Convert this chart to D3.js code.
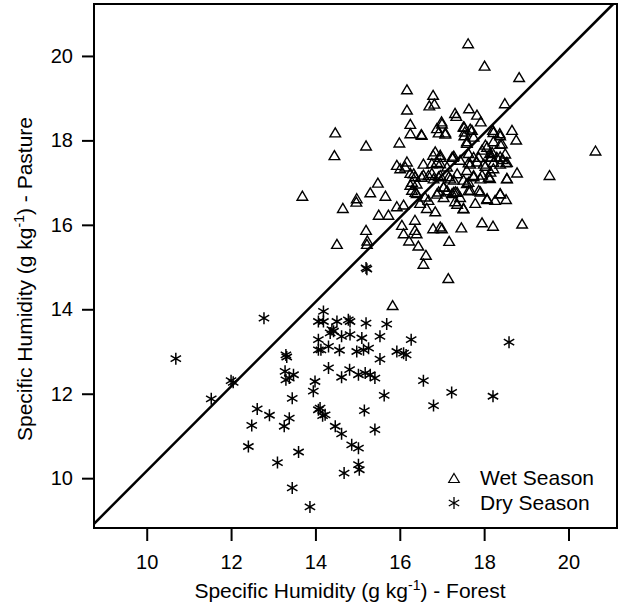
<!DOCTYPE html>
<html>
<head>
<meta charset="utf-8">
<script src="https://cdn.jsdelivr.net/npm/d3@7"></script>
<style>
  body { margin: 0; background: #fff; }
  svg { display: block; font-family: "Liberation Sans", Arial, Helvetica, sans-serif; }
</style>
</head>
<body>
<div id="chart"></div>
<script>
// Specific humidity, forest (x) vs pasture (y), g/kg
const wetSeason = [
  [17.62,20.30],[18.01,19.77],[18.83,19.50],[16.17,19.21],[16.79,19.08],[16.70,18.83],[16.82,18.87],
  [16.17,18.73],[17.64,18.76],[17.31,18.65],[17.34,18.58],[18.49,18.88],[17.83,18.61],[17.92,18.45],
  [16.25,18.39],[16.99,18.45],[14.47,18.19],[16.25,18.17],[16.52,18.13],[16.88,18.29],[16.92,18.19],
  [17.08,18.19],[17.51,18.33],[17.54,18.21],[17.71,18.25],[18.21,18.25],[18.37,18.17],[18.66,18.25],
  [18.76,18.02],[15.20,17.88],[15.99,17.95],[17.59,17.98],[17.75,18.09],[18.03,17.90],[18.22,17.98],
  [18.38,17.92],[14.45,17.65],[20.64,17.76],[16.84,17.74],[16.96,17.66],[16.79,17.66],[17.28,17.64],
  [17.63,17.70],[17.95,17.78],[18.14,17.70],[18.18,17.62],[18.38,17.62],[18.44,17.56],[18.52,17.48],
  [15.93,17.42],[16.01,17.34],[16.17,17.50],[16.56,17.45],[16.76,17.46],[16.96,17.46],[17.12,17.38],
  [17.43,17.54],[17.63,17.48],[17.67,17.45],[17.83,17.50],[18.03,17.40],[18.22,17.34],[18.78,17.24],
  [19.55,17.18],[16.25,17.23],[16.36,17.15],[16.56,17.19],[16.76,17.23],[16.92,17.15],[17.16,17.15],
  [17.28,17.07],[17.51,17.07],[17.59,16.99],[17.75,17.15],[17.95,17.19],[18.14,17.11],[18.54,17.11],
  [15.48,17.00],[14.98,16.63],[14.97,16.55],[15.30,16.77],[15.66,16.69],[13.69,16.69],[16.25,16.95],
  [16.29,16.83],[16.40,16.75],[16.60,16.67],[16.68,16.59],[16.92,16.79],[17.04,16.91],[17.24,16.75],
  [17.32,16.79],[17.67,16.83],[17.91,16.79],[18.07,16.61],[18.26,16.59],[18.38,16.75],[18.52,16.61],
  [14.65,16.40],[15.50,16.24],[15.73,16.24],[15.93,16.44],[16.09,16.48],[16.48,16.52],[16.64,16.40],
  [16.84,16.32],[17.31,16.56],[17.36,16.50],[17.51,16.40],[17.79,16.52],[16.36,16.12],[16.05,16.00],
  [16.09,15.80],[16.36,15.88],[16.40,15.80],[16.79,15.92],[16.96,15.96],[17.00,15.92],[17.46,15.94],
  [17.95,16.06],[18.21,15.98],[18.90,16.03],[15.20,15.88],[14.51,15.55],[15.23,15.63],[15.22,15.55],
  [16.22,15.63],[16.44,15.51],[17.17,15.62],[16.62,15.29],[16.56,15.08],[17.15,14.74],[15.83,14.10],
  [16.51,18.15],[17.00,18.40],[16.13,17.38],[16.33,17.22],[16.29,17.02],[16.40,16.98],[16.88,17.49],
  [16.96,17.61],[17.24,17.61],[16.52,17.14],[16.68,17.18],[16.80,17.10],[16.96,17.18],[17.36,16.78],
  [17.12,16.82],[16.88,16.74],[16.37,16.78],[17.53,18.32],[17.67,18.28],[17.53,18.12],[17.08,18.16],
  [18.22,18.20],[18.38,18.12],[17.59,17.94],[18.07,17.85],[18.19,17.73],[18.42,17.93],[18.50,17.69],
  [18.15,17.61],[18.30,17.61],[17.26,17.61],[17.75,17.61],[17.87,17.61],[17.99,17.45],[18.22,17.49],
  [18.38,17.45],[18.54,17.49],[18.54,17.10],[17.36,17.22],[17.20,17.10],[17.59,17.30],[17.63,17.02],
  [17.75,17.18],[17.91,17.10],[18.11,17.14],[18.15,17.26],[17.28,16.78],[17.43,16.66],[17.63,16.82],
  [17.87,16.82],[18.07,16.63],[18.38,16.74],[17.51,16.39],[17.04,16.90],[17.04,16.66]
];

const drySeason = [
  [10.69,12.83],[11.53,11.88],[12.00,12.31],[12.05,12.27],[12.78,13.79],[12.62,11.64],[12.91,11.49],
  [12.49,11.25],[12.41,10.75],[13.10,10.37],[13.30,12.92],[13.32,12.87],[13.28,12.53],[13.30,12.33],
  [13.38,12.37],[13.48,12.45],[13.45,11.89],[13.38,11.42],[13.26,11.23],[13.60,10.62],[13.45,9.77],
  [13.87,9.32],[13.95,12.06],[13.99,12.29],[14.07,11.62],[14.07,13.71],[14.07,13.28],[14.07,13.04],
  [14.19,13.95],[14.19,13.71],[14.51,13.71],[14.39,13.52],[14.43,13.48],[14.78,13.75],[14.82,13.71],
  [15.20,13.67],[15.69,13.65],[14.35,13.44],[14.62,13.36],[14.82,13.40],[15.10,13.32],[15.53,13.36],
  [16.27,13.28],[14.13,13.04],[14.31,13.12],[14.57,13.03],[14.98,13.00],[15.14,13.04],[15.26,13.08],
  [15.53,12.82],[15.93,13.00],[16.09,12.96],[16.15,12.92],[18.59,13.22],[14.31,12.61],[14.62,12.39],
  [14.81,12.57],[15.02,12.45],[15.18,12.49],[15.30,12.45],[15.41,12.37],[15.63,11.96],[16.56,12.31],
  [16.80,11.72],[17.23,12.03],[18.21,11.94],[14.11,11.66],[14.23,11.50],[14.17,11.48],[15.16,11.60],
  [14.47,11.23],[14.62,11.05],[15.41,11.15],[14.86,10.79],[15.02,10.71],[15.02,10.32],[15.04,10.20],
  [14.68,10.12],[15.20,14.98],[15.22,14.95]
];

const xTicks = [10, 12, 14, 16, 18, 20];
const yTicks = [10, 12, 14, 16, 18, 20];
// reference line, endpoints [forest, pasture]
const refLine = [[8.75, 8.92], [21.06, 21.23]];

const width = 619, height = 608;
const margin = { top: 4, right: 2, bottom: 80, left: 94 };
const plotW = width - margin.left - margin.right;
const plotH = height - margin.top - margin.bottom;

const svg = d3.select('#chart').append('svg')
  .attr('width', width)
  .attr('height', height);

const g = svg.append('g')
  .attr('transform', `translate(${margin.left},${margin.top})`);

const x = d3.scaleLinear().domain([8.75, 21.15]).range([0, plotW]);
const y = d3.scaleLinear().domain([8.82, 21.23]).range([plotH, 0]);

// axes
const xAxis = g.append('g')
  .attr('transform', `translate(0,${plotH})`)
  .call(d3.axisBottom(x).tickValues(xTicks).tickSize(13).tickPadding(14));
const yAxis = g.append('g')
  .call(d3.axisLeft(y).tickValues(yTicks).tickSize(12).tickPadding(9));

[xAxis, yAxis].forEach(a => {
  a.select('.domain').remove();
  a.selectAll('.tick line').attr('stroke', '#000').attr('stroke-width', 2);
  a.selectAll('.tick text')
    .attr('fill', '#000')
    .style('font-size', '20px')
    .style('font-family', '"Liberation Sans", Arial, Helvetica, sans-serif');
});

// 1:1 line
g.append('path')
  .datum(refLine)
  .attr('d', d3.line().x(d => x(d[0])).y(d => y(d[1])))
  .attr('fill', 'none')
  .attr('stroke', '#000')
  .attr('stroke-width', 2.5);

const triPath = 'M0,-4.5L5.3,4.5L-5.3,4.5Z';
// six-armed asterisk
const starPath = 'M0,-6V6M-5.2,-3L5.2,3M-5.2,3L5.2,-3';

g.selectAll('.wet')
  .data(wetSeason)
  .enter()
  .append('path')
  .attr('class', 'wet')
  .attr('d', triPath)
  .attr('transform', d => `translate(${x(d[0])},${y(d[1])})`)
  .attr('fill', 'none')
  .attr('stroke', '#000')
  .attr('stroke-width', 1.4);

g.selectAll('.dry')
  .data(drySeason)
  .enter()
  .append('path')
  .attr('class', 'dry')
  .attr('d', starPath)
  .attr('transform', d => `translate(${x(d[0])},${y(d[1])})`)
  .attr('fill', 'none')
  .attr('stroke', '#000')
  .attr('stroke-width', 1.5);

// frame
g.append('rect')
  .attr('width', plotW)
  .attr('height', plotH)
  .attr('fill', 'none')
  .attr('stroke', '#000')
  .attr('stroke-width', 2);

// legend
const legend = g.append('g').attr('transform', `translate(${454 - margin.left},${478 - margin.top})`);
legend.append('path').attr('d', triPath).attr('fill', 'none').attr('stroke', '#000').attr('stroke-width', 1.2);
legend.append('path').attr('d', starPath).attr('transform', 'translate(0,25)')
  .attr('fill', 'none').attr('stroke', '#000').attr('stroke-width', 1.3);
legend.append('text').attr('x', 26).attr('y', 7).style('font-size', '21px').text('Wet Season');
legend.append('text').attr('x', 26).attr('y', 32).style('font-size', '21px').text('Dry Season');

// axis titles
const xTitle = svg.append('text')
  .attr('x', 350)
  .attr('y', 598)
  .attr('text-anchor', 'middle')
  .style('font-size', '21px');
xTitle.append('tspan').text('Specific Humidity (g kg');
xTitle.append('tspan').attr('dy', -8).style('font-size', '14px').text('-1');
xTitle.append('tspan').attr('dy', 8).text(') - Forest');

const yTitle = svg.append('text')
  .attr('transform', 'rotate(-90)')
  .attr('x', -279)
  .attr('y', 32)
  .attr('text-anchor', 'middle')
  .style('font-size', '21px');
yTitle.append('tspan').text('Specific Humidity (g kg');
yTitle.append('tspan').attr('dy', -8).style('font-size', '14px').text('-1');
yTitle.append('tspan').attr('dy', 8).text(') - Pasture');
</script>
</body>
</html>
